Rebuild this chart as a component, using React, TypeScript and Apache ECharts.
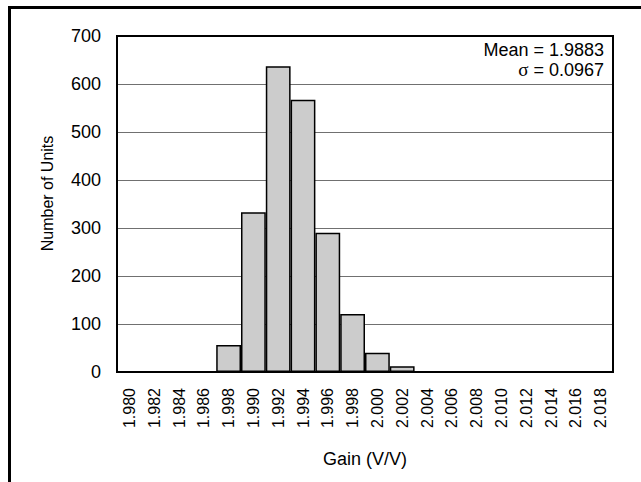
import React, { useEffect, useRef } from "react";
import * as echarts from "echarts";

const categories = [
  "1.980", "1.982", "1.984", "1.986", "1.998", "1.990", "1.992", "1.994", "1.996", "1.998",
  "2.000", "2.002", "2.004", "2.006", "2.008", "2.010", "2.012", "2.014", "2.016", "2.018",
];
const units = [0, 0, 0, 0, 56, 333, 637, 567, 290, 121, 40, 12, 0, 0, 0, 0, 0, 0, 0, 0];
const meanText = "Mean = 1.9883";
const sigmaSymbol = "\u03c3";
const sigmaValue = " = 0.0967";
const xTitle = "Gain (V/V)";
const yTitle = "Number of Units";

const FONT = "'Liberation Sans', Arial, Helvetica, sans-serif";
const SERIF = "'Liberation Serif', 'Times New Roman', serif";

export default function App() {
  const ref = useRef<HTMLDivElement>(null);
  useEffect(() => {
    if (!ref.current) return;
    const chart = echarts.init(ref.current, null, { renderer: "svg" });
    chart.setOption({
      animation: false,
      backgroundColor: "#ffffff",
      textStyle: { fontFamily: FONT },
      grid: {
        left: 117,
        right: 28,
        top: 36,
        bottom: 110,
        show: true,
        borderColor: "#000",
        borderWidth: 2,
        backgroundColor: "transparent",
        z: 3,
      },
      xAxis: {
        type: "category",
        data: categories,
        name: xTitle,
        nameLocation: "middle",
        nameGap: 78,
        nameTextStyle: { fontSize: 18, color: "#000", fontFamily: FONT },
        axisLine: { show: false },
        axisTick: { show: false },
        axisLabel: {
          rotate: 90,
          interval: 0,
          margin: 16,
          fontSize: 16,
          color: "#000",
          fontFamily: FONT,
        },
        splitLine: { show: false },
      },
      yAxis: {
        type: "value",
        min: 0,
        max: 700,
        interval: 100,
        axisLine: { show: false },
        axisTick: { show: false },
        axisLabel: { margin: 16, fontSize: 18, color: "#000", fontFamily: FONT },
        splitLine: { show: true, lineStyle: { color: "#707070", width: 1 } },
      },
      series: [
        {
          type: "bar",
          data: units,
          barWidth: "100%",
          barCategoryGap: "0%",
          itemStyle: { color: "#cccccc", borderColor: "#000", borderWidth: 1.5 },
          z: 2,
        },
      ],
      graphic: [
        {
          type: "rect",
          shape: { x: 9.5, y: 7.5, width: 800, height: 600 },
          style: { fill: "none", stroke: "#000", lineWidth: 3 },
          silent: true,
        },
        {
          type: "text",
          x: 47.5,
          y: 193.5,
          rotation: Math.PI / 2,
          style: {
            text: yTitle,
            fontSize: 16,
            fontFamily: FONT,
            fill: "#000",
            textAlign: "center",
            textVerticalAlign: "middle",
          },
          z: 10,
        },
        {
          type: "text",
          x: 604,
          y: 50,
          style: {
            text: meanText,
            fontSize: 18,
            fontFamily: FONT,
            fill: "#000",
            textAlign: "right",
            textVerticalAlign: "middle",
          },
          z: 10,
        },
        {
          type: "text",
          x: 604,
          y: 69.5,
          style: {
            text: "{s|" + sigmaSymbol + "}" + sigmaValue,
            fontSize: 18,
            fontFamily: FONT,
            fill: "#000",
            textAlign: "right",
            textVerticalAlign: "middle",
            rich: {
              s: { fontFamily: SERIF, fontSize: 19, fill: "#000" },
            },
          },
          z: 10,
        },
      ],
    });
    return () => chart.dispose();
  }, []);
  return (
    <div
      ref={ref}
      style={{ position: "absolute", left: 0, top: 0, width: 641, height: 482 }}
    />
  );
}
